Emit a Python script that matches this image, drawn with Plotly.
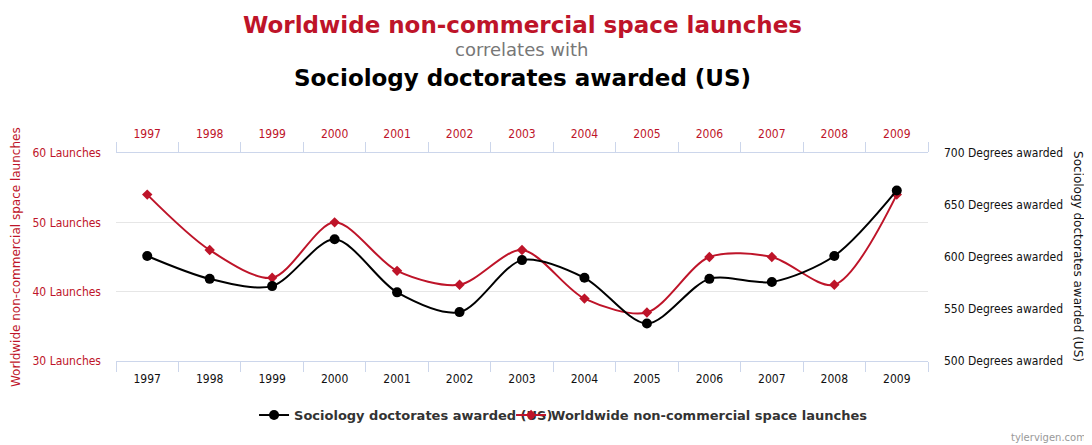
import plotly.graph_objects as go

years = ["1997", "1998", "1999", "2000", "2001", "2002", "2003",
         "2004", "2005", "2006", "2007", "2008", "2009"]
launches = [54, 46, 42, 50, 43, 41, 46, 39, 37, 45, 45, 41, 54]
doctorates = [601, 579, 572, 617, 566, 547, 597, 580, 536, 579, 576, 601, 664]

RED = "#BE1429"
BLACK = "#000000"
AXIS = "#ccd6eb"
FONT = "DejaVu Sans"
TICKFONT = "DejaVu Sans Condensed, DejaVu Sans"

fig = go.Figure()
fig.add_trace(go.Scatter(
    x=years, y=doctorates, xaxis="x2", yaxis="y2", legend="legend",
    name="<b>Sociology doctorates awarded (US)</b>",
    mode="lines+markers", line=dict(color=BLACK, width=2, shape="spline", smoothing=0.85),
    marker=dict(symbol="circle", size=10, color=BLACK),
))
fig.add_trace(go.Scatter(
    x=years, y=launches, xaxis="x", yaxis="y", legend="legend2",
    name="<b>Worldwide non-commercial space launches</b>",
    mode="lines+markers", line=dict(color=RED, width=2, shape="spline", smoothing=0.85),
    marker=dict(symbol="diamond", size=8, color=RED),
))

xcommon = dict(type="category", categoryorder="array", categoryarray=years,
               range=[-0.5, 12.5], showgrid=False, showline=True, linecolor=AXIS,
               linewidth=1, ticks="outside", tickson="boundaries", ticklen=10,
               tickcolor=AXIS, zeroline=False, fixedrange=True)

legcommon = dict(orientation="h", y=-0.26, yanchor="middle", xanchor="left",
                 font=dict(family=FONT, size=13, color="#333"),
                 bgcolor="rgba(0,0,0,0)")

fig.update_layout(
    width=1084, height=437,
    margin=dict(l=108, r=164, t=145, b=84),
    paper_bgcolor="white", plot_bgcolor="white",
    font=dict(family=FONT, size=12, color="#222"),
    showlegend=True,
    legend=dict(**legcommon, x=0.170),
    legend2=dict(**legcommon, x=0.4865),
    xaxis=dict(**xcommon, side="top", ticklabelstandoff=9,
               tickfont=dict(color=RED, size=12, family=TICKFONT)),
    xaxis2=dict(**xcommon, side="bottom", overlaying="x", anchor="y", ticklabelstandoff=7,
                tickfont=dict(color="#111", size=12, family=TICKFONT)),
    yaxis=dict(range=[30, 60], dtick=10, tick0=30, showgrid=True, gridcolor="#e6e6e6",
               zeroline=False, showline=False, ticks="", ticksuffix=" Launches",
               tickfont=dict(color=RED, size=12, family=TICKFONT), ticklabelstandoff=14,
               fixedrange=True),
    yaxis2=dict(range=[500, 700], dtick=50, tick0=500, showgrid=False, zeroline=False,
                overlaying="y", side="right", anchor="x", showline=False, ticks="",
                ticksuffix=" Degrees awarded",
                tickfont=dict(color="#111", size=12, family=TICKFONT),
                ticklabelstandoff=15, fixedrange=True),
)

annotations = [
    dict(text="<b>Worldwide non-commercial space launches</b>", x=0.5, y=1.615,
         font=dict(size=23, color=RED)),
    dict(text="correlates with", x=0.5, y=1.5, font=dict(size=18, color="#777")),
    dict(text="<b>Sociology doctorates awarded (US)</b>", x=0.5, y=1.36,
         font=dict(size=23, color="#000")),
    dict(text="Worldwide non-commercial space launches", x=-0.123, y=0.5, textangle=-90,
         font=dict(size=12, color=RED)),
    dict(text="Sociology doctorates awarded (US)", x=1.1847, y=0.5, textangle=90,
         font=dict(size=12, color="#111")),
]
for a in annotations:
    fig.add_annotation(xref="paper", yref="paper", showarrow=False,
                       xanchor="center", yanchor="middle", font_family=FONT, **a)
fig.add_annotation(text="tylervigen.com", xref="paper", yref="paper", x=1.197, y=-0.37,
                   xanchor="right", yanchor="middle", showarrow=False,
                   font=dict(family=FONT, size=10, color="#999"))

fig.write_html("out.html")
